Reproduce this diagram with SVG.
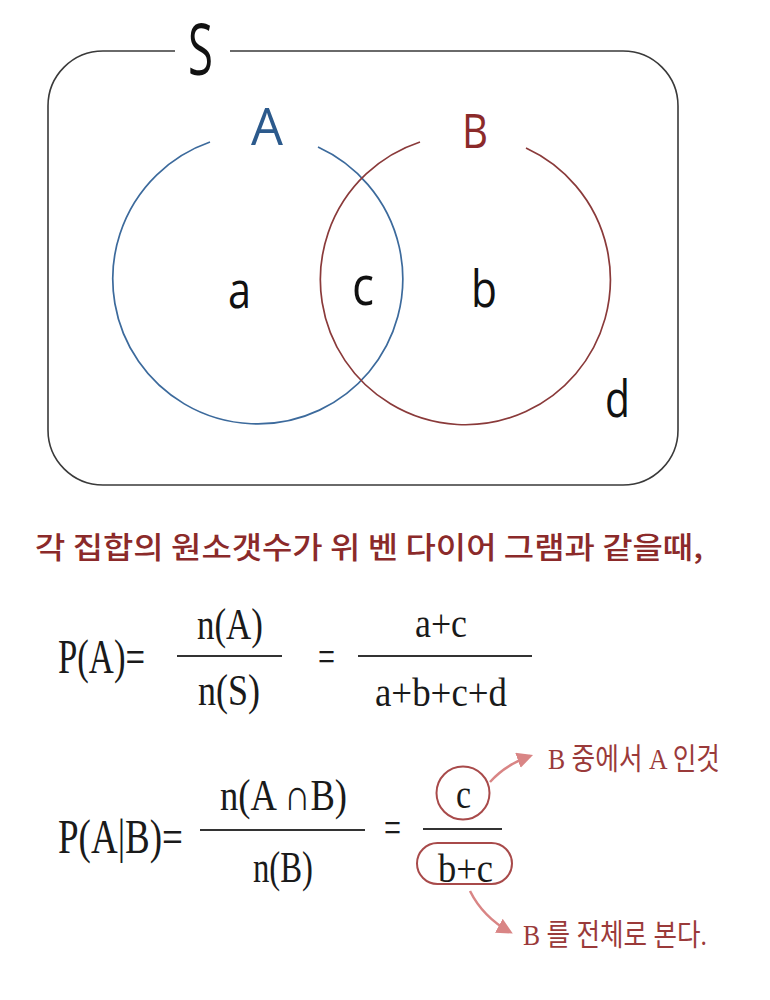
<svg xmlns="http://www.w3.org/2000/svg" width="770" height="1000" viewBox="0 0 770 1000">
<defs>
<style>
.frame{fill:none;stroke:#3a3a3a;stroke-width:1.6}
.setA{fill:none;stroke:#3c6a9c;stroke-width:1.7}
.setB{fill:none;stroke:#8a3a3a;stroke-width:1.7}
.lbl{font-family:"Open Sans","Noto Sans",sans-serif;fill:#111}
.math{font-family:"Liberation Serif","DejaVu Serif",serif;fill:#1a1a1a;font-size:44px}
.small{font-size:40px}
.big{font-size:48px}
.kr{font-family:"Noto Sans CJK KR","Noto Sans",sans-serif;fill:#8b2a2a}
.note{font-family:"Liberation Serif","Noto Sans CJK KR",serif;fill:#9a3a3a;font-size:30px}
.bar{stroke:#333;stroke-width:2}
.mark{fill:none;stroke:#a84a4a;stroke-width:2}
.arr{fill:none;stroke:#d98585;stroke-width:2.5}
</style>
<marker id="ah" viewBox="0 0 10 10" refX="8" refY="5" markerWidth="16" markerHeight="16" orient="auto" markerUnits="userSpaceOnUse">
<path d="M0,0 L10,5 L0,10 z" fill="#d98585"/>
</marker>
</defs>
<rect width="770" height="1000" fill="#fff"/>
<g id="universe">
<path class="frame" d="M175,51 L103,51 A55,55 0 0 0 48,106 L48,430 A55,55 0 0 0 103,485 L623,485 A55,55 0 0 0 678,430 L678,106 A55,55 0 0 0 623,51 L230,51"/>
<text class="lbl" x="188" y="75" font-size="72" textLength="25" lengthAdjust="spacingAndGlyphs">S</text>
<text class="lbl" x="605" y="417" font-size="52" textLength="25" lengthAdjust="spacingAndGlyphs">d</text>
</g>
<g id="setA">
<path class="setA" d="M318,147 A145,145 0 1 1 210,142"/>
<text x="251" y="145" font-family="Open Sans,Noto Sans,sans-serif" font-size="52" fill="#2c5a8c" textLength="32" lengthAdjust="spacingAndGlyphs">A</text>
<text class="lbl" x="228" y="308" font-size="52" textLength="23" lengthAdjust="spacingAndGlyphs">a</text>
</g>
<g id="setB">
<path class="setB" d="M526,148 A145,145 0 1 1 420,142"/>
<text x="462" y="148" font-family="Open Sans,Noto Sans,sans-serif" font-size="47" fill="#8b2a2a" textLength="26" lengthAdjust="spacingAndGlyphs">B</text>
<text class="lbl" x="471" y="307" font-size="52" textLength="26" lengthAdjust="spacingAndGlyphs">b</text>
</g>
<g id="intersection">
<text class="lbl" x="352" y="305" font-size="54" textLength="22" lengthAdjust="spacingAndGlyphs">c</text>
</g>
<g id="caption">
<text class="kr" x="35" y="558" font-size="30" font-weight="500" textLength="668" lengthAdjust="spacingAndGlyphs">각 집합의 원소갯수가 위 벤 다이어 그램과 같을때,</text>
</g>
<g id="formula1">
<text class="math big" x="58" y="673" textLength="87" lengthAdjust="spacingAndGlyphs">P(A)=</text>
<text class="math" x="197" y="639" textLength="66" lengthAdjust="spacingAndGlyphs">n(A)</text>
<line class="bar" x1="177" y1="656" x2="282" y2="656"/>
<text class="math" x="198" y="705" textLength="62" lengthAdjust="spacingAndGlyphs">n(S)</text>
<text class="math" x="318" y="671" textLength="17" lengthAdjust="spacingAndGlyphs">=</text>
<text class="math small" x="415" y="637" textLength="52" lengthAdjust="spacingAndGlyphs">a+c</text>
<line class="bar" x1="358" y1="656" x2="532" y2="656"/>
<text class="math small" x="375" y="706" textLength="132" lengthAdjust="spacingAndGlyphs">a+b+c+d</text>
</g>
<g id="formula2">
<text class="math big" x="58" y="853" textLength="125" lengthAdjust="spacingAndGlyphs">P(A|B)=</text>
<text class="math" x="220" y="810" textLength="127" lengthAdjust="spacingAndGlyphs">n(A ∩B)</text>
<line class="bar" x1="200" y1="830" x2="365" y2="830"/>
<text class="math" x="253" y="882" textLength="60" lengthAdjust="spacingAndGlyphs">n(B)</text>
<text class="math" x="384" y="842" textLength="17" lengthAdjust="spacingAndGlyphs">=</text>
<circle class="mark" cx="463" cy="793" r="26.5"/>
<text class="math small" x="456" y="808" textLength="15" lengthAdjust="spacingAndGlyphs">c</text>
<line class="bar" x1="423" y1="829" x2="502" y2="829"/>
<rect class="mark" x="417" y="843" width="95" height="41" rx="20.5"/>
<text class="math small" x="438" y="882" textLength="55" lengthAdjust="spacingAndGlyphs">b+c</text>
</g>
<g id="connectors">
<path class="arr" d="M490,782 Q505,765 530,756" marker-end="url(#ah)"/>
<path class="arr" d="M470,891 Q483,917 510,932" marker-end="url(#ah)"/>
</g>
<g id="notes">
<text class="note" x="548" y="769" textLength="172" lengthAdjust="spacingAndGlyphs">B 중에서 A 인것</text>
<text class="note" x="523" y="945" textLength="184" lengthAdjust="spacingAndGlyphs">B 를 전체로 본다.</text>
</g>
</svg>
